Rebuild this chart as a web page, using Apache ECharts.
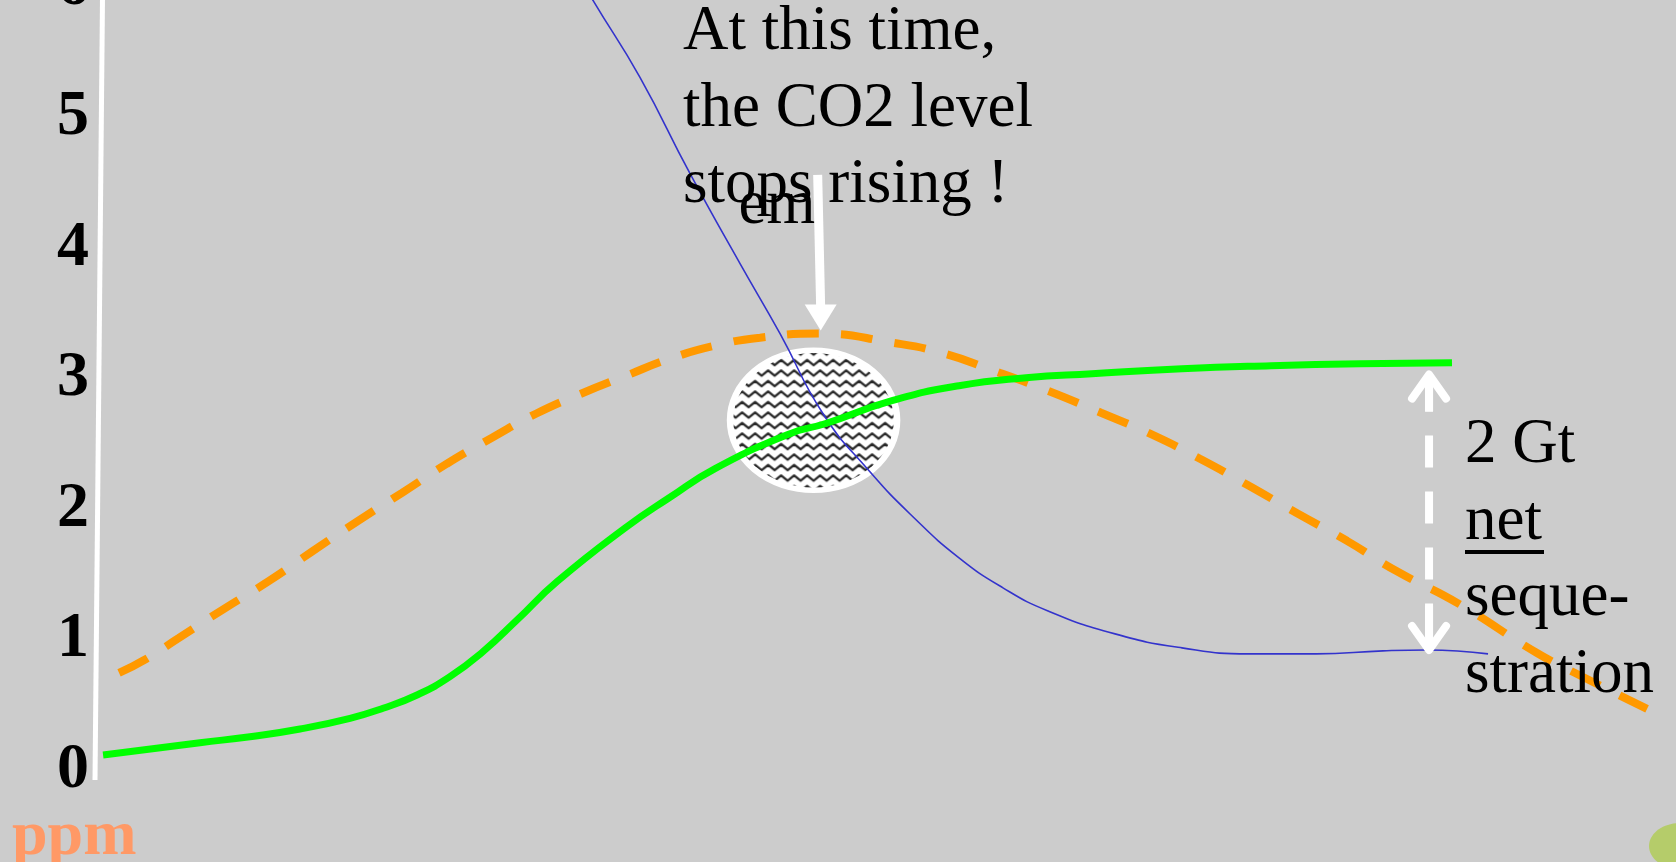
<!DOCTYPE html>
<html>
<head>
<meta charset="utf-8">
<script src="https://cdn.jsdelivr.net/npm/echarts@6/dist/echarts.min.js"></script>
<style>
  html, body { margin: 0; padding: 0; background: #cccccc; overflow: hidden; }
  #chart { width: 1676px; height: 862px; }
</style>
</head>
<body>
<div id="chart"></div>
<script>
// Time runs along x in arbitrary steps (0-100); the vertical scale is in ppm.
const yTicks = [0, 1, 2, 3, 4, 5, 6];

// Atmospheric CO2 level (dashed orange)
const co2Level = [
  [1.52, 0.744], [3.23, 0.851], [5.31, 1.012], [8.16, 1.235], [11.01, 1.449],
  [13.79, 1.679], [16.64, 1.909], [19.42, 2.124], [22.26, 2.347], [25.11, 2.546],
  [27.89, 2.730], [30.74, 2.883], [33.59, 3.021], [36.37, 3.152], [39.22, 3.252],
  [42.06, 3.313], [45.86, 3.344], [50.41, 3.275], [53.51, 3.198], [56.86, 3.060],
  [60.28, 2.906], [63.63, 2.738], [66.73, 2.577], [69.89, 2.385], [72.99, 2.178],
  [76.09, 1.963], [79.19, 1.756], [82.29, 1.526], [86.27, 1.273], [91.21, 0.897],
  [94.12, 0.713], [98.17, 0.468]
];

// Emissions (thin blue)
const emissions = [
  [31.06, 6.0], [31.50, 5.897], [34.47, 5.307], [37.63, 4.571], [40.80, 3.880],
  [43.33, 3.344], [46.05, 2.730], [48.96, 2.293], [51.80, 1.933], [54.65, 1.626],
  [57.43, 1.396], [60.28, 1.219], [64.52, 1.043], [68.75, 0.936], [72.99, 0.890],
  [77.23, 0.890], [81.47, 0.913], [84.25, 0.920], [88.11, 0.890]
];

// Uptake (thick green)
const uptake = [
  [0.51, 0.115], [6.64, 0.209], [9.80, 0.255], [12.97, 0.314], [16.13, 0.396],
  [18.22, 0.473], [20.37, 0.575], [22.45, 0.715], [24.54, 0.907], [26.69, 1.149],
  [29.22, 1.443], [33.59, 1.860], [36.37, 2.090], [39.22, 2.310], [43.96, 2.577],
  [46.17, 2.653], [50.41, 2.830], [54.65, 2.945], [58.89, 3.006], [63.06, 3.037],
  [68.75, 3.075], [74.38, 3.098], [80.01, 3.113], [85.83, 3.121]
];

// Where emissions meet uptake
const crossing = [[45.45, 2.68]];

// Arrow marking the net sequestration gap
const netArrow = { x: 84.38, low: 0.92, high: 3.03 };
// Arrow pointing at the CO2 peak
const peakArrow = { x: 45.9, top: 4.56 };

const serif = '"Liberation Serif", "Times New Roman", serif';
const markerSize = [167, 140];

// Wavy hatch used inside the crossing marker
function wavePattern() {
  const c = document.createElement('canvas');
  c.width = 26; c.height = 21;
  const g = c.getContext('2d');
  g.fillStyle = '#ffffff';
  g.fillRect(0, 0, c.width, c.height);
  g.strokeStyle = '#262626';
  g.lineWidth = 2.3;
  g.lineJoin = 'round';
  [5.25, 15.75].forEach(function (cy) {
    g.beginPath();
    for (let i = -1; i <= 5; i++) {
      const x = i * 6.5;
      const y = cy + (i % 2 === 0 ? 2.6 : -2.6);
      if (i === -1) g.moveTo(x, y); else g.lineTo(x, y);
    }
    g.stroke();
  });
  return c;
}

const chart = echarts.init(document.getElementById('chart'), null, { renderer: 'canvas' });

const lineSmooth = { smooth: 0.5, showSymbol: false };

const option = {
  backgroundColor: '#cccccc',
  animation: false,
  grid: { left: 95, right: 0, top: -13, bottom: 92, containLabel: false, outerBoundsMode: 'none' },
  xAxis: { type: 'value', min: 0, max: 100, show: false },
  yAxis: {
    type: 'value',
    min: yTicks[0],
    max: yTicks[yTicks.length - 1],
    interval: yTicks[1] - yTicks[0],
    axisLine: { show: false },
    axisTick: { show: false },
    splitLine: { show: false },
    axisLabel: {
      color: '#000000',
      fontFamily: serif,
      fontWeight: 'bold',
      fontSize: 64,
      margin: 6
    }
  },
  series: [
    {
      name: 'crossing',
      type: 'scatter',
      data: crossing,
      symbol: 'circle',
      symbolSize: markerSize,
      z: 1,
      silent: true,
      itemStyle: {
        // the symbol path is unit-sized and scaled, so the tile is scaled back
        color: {
          image: wavePattern(),
          repeat: 'repeat',
          scaleX: 2 / markerSize[0],
          scaleY: 2 / markerSize[1]
        },
        borderColor: '#ffffff',
        borderWidth: 6,
        opacity: 1
      }
    },
    Object.assign({
      name: 'CO2 level',
      type: 'line',
      data: co2Level,
      z: 2,
      lineStyle: { color: '#ff9900', width: 8, type: [32, 22], cap: 'butt' }
    }, lineSmooth),
    Object.assign({
      name: 'emissions',
      type: 'line',
      data: emissions,
      z: 3,
      lineStyle: { color: '#3333cc', width: 1.6 }
    }, lineSmooth),
    Object.assign({
      name: 'uptake',
      type: 'line',
      data: uptake,
      z: 4,
      lineStyle: { color: '#00ff00', width: 7 }
    }, lineSmooth)
  ]
};

chart.setOption(option);

// Annotations placed through the chart's own coordinate system
const toPx = function (p) { return chart.convertToPixel({ gridIndex: 0 }, p); };

const base = toPx([0, yTicks[0]]);
const axisTop = toPx([0, yTicks[yTicks.length - 1]]);

const peakValue = co2Level.reduce(function (a, b) { return b[1] > a[1] ? b : a; })[1];
const tip = toPx([peakArrow.x, peakValue]);
tip[1] -= 3;
const shaftTop = toPx([peakArrow.x, peakArrow.top]);

const hi = toPx([netArrow.x, netArrow.high]);
const lo = toPx([netArrow.x, netArrow.low]);

const white = '#ffffff';
const textFont = 'normal 63px ' + serif;

chart.setOption({
  graphic: [
    // slanted vertical axis line
    {
      type: 'line', z: 1, silent: true,
      shape: { x1: base[0], y1: base[1] + 10, x2: axisTop[0] + 7.6, y2: axisTop[1] },
      style: { stroke: white, lineWidth: 5 }
    },
    // unit label
    {
      type: 'text', z: 10, silent: true, x: 12, y: 837,
      style: { text: 'ppm', font: 'bold 64px ' + serif, fill: '#ff9966', verticalAlign: 'middle' }
    },
    // callout text
    {
      type: 'text', z: 10, silent: true, x: 683, y: -5.5,
      style: {
        text: 'At this time,\nthe CO2 level\nstops rising !',
        font: textFont, fill: '#000000', lineHeight: 76.5, verticalAlign: 'top'
      }
    },
    {
      type: 'text', z: 10, silent: true, x: 738.5, y: 206.7,
      style: { text: 'em', font: textFont, fill: '#000000', verticalAlign: 'middle' }
    },
    // arrow down to the peak
    {
      type: 'line', z: 11, silent: true,
      shape: { x1: shaftTop[0] - 3, y1: shaftTop[1], x2: tip[0], y2: tip[1] - 22 },
      style: { stroke: white, lineWidth: 9 }
    },
    {
      type: 'polygon', z: 11, silent: true,
      shape: { points: [[tip[0] - 16, tip[1] - 26], [tip[0] + 16, tip[1] - 26], [tip[0], tip[1]]] },
      style: { fill: white }
    },
    // net sequestration double arrow
    {
      type: 'line', z: 11, silent: true,
      shape: { x1: hi[0], y1: hi[1] + 5, x2: lo[0], y2: lo[1] },
      style: { stroke: white, lineWidth: 8, lineDash: [32, 24] }
    },
    {
      type: 'line', z: 11, silent: true,
      shape: { x1: hi[0], y1: hi[1], x2: hi[0], y2: hi[1] + 37 },
      style: { stroke: white, lineWidth: 8 }
    },
    {
      type: 'line', z: 11, silent: true,
      shape: { x1: lo[0], y1: lo[1] - 44, x2: lo[0], y2: lo[1] },
      style: { stroke: white, lineWidth: 8 }
    },
    {
      type: 'polyline', z: 11, silent: true,
      shape: { points: [[hi[0] - 17, hi[1] + 24], [hi[0], hi[1]], [hi[0] + 17, hi[1] + 24]] },
      style: { stroke: white, lineWidth: 8, lineCap: 'round', lineJoin: 'round', fill: null }
    },
    {
      type: 'polyline', z: 11, silent: true,
      shape: { points: [[lo[0] - 17, lo[1] - 24], [lo[0], lo[1]], [lo[0] + 17, lo[1] - 24]] },
      style: { stroke: white, lineWidth: 8, lineCap: 'round', lineJoin: 'round', fill: null }
    },
    {
      type: 'text', z: 10, silent: true, x: 1465, y: 407.5,
      style: {
        text: '2 Gt\nnet\nseque-\nstration',
        font: textFont, fill: '#000000', lineHeight: 76.5, verticalAlign: 'top'
      }
    },
    {
      type: 'rect', z: 10, silent: true,
      shape: { x: 1465, y: 550, width: 79, height: 4 },
      style: { fill: '#000000' }
    },
    // corner dot
    {
      type: 'ellipse', z: 0, silent: true,
      shape: { cx: 1680, cy: 846, rx: 31, ry: 23 },
      style: { fill: '#b5cc6a' }
    }
  ]
});
</script>
</body>
</html>
